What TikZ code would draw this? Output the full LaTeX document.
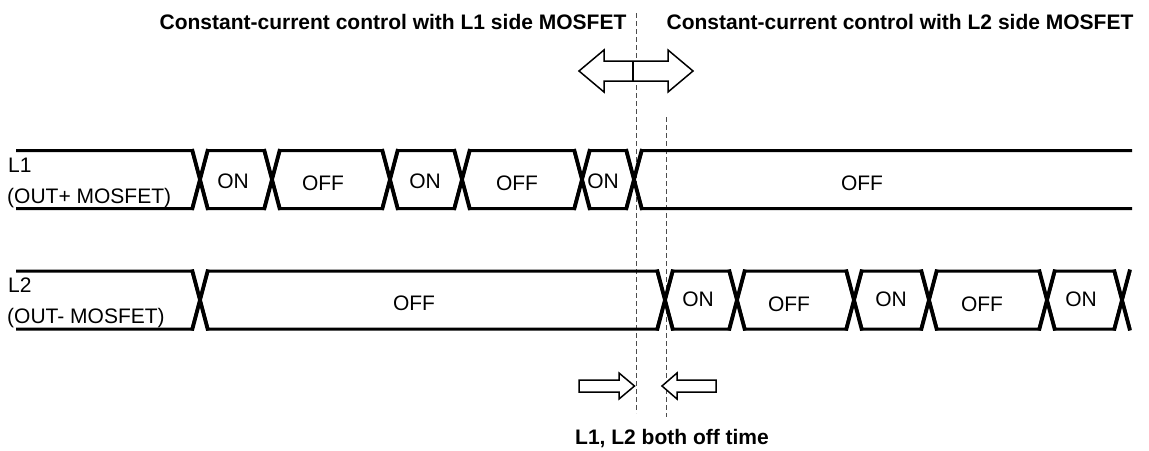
\documentclass[tikz,border=0pt]{standalone}
\usepackage{fontspec}
\setmainfont{Liberation Sans}
\begin{document}
\begin{tikzpicture}[x=1pt,y=-1pt,
  sig/.style={line width=3pt, line join=miter},
  cross/.style={line width=3.8pt, line cap=butt},
  guide/.style={line width=1pt, dash pattern=on 5pt off 3pt, black!70},
  lbl/.style={inner sep=0pt, font=\fontsize{21}{25}\selectfont},
  ttl/.style={inner sep=0pt, font=\fontsize{21}{25}\selectfont\bfseries},
  hollow/.style={line width=1.5pt, fill=white, line join=miter}]
\useasboundingbox (0,0) rectangle (1149,450);

% guide lines
\draw[guide] (636.5,13) -- (636.5,413);
\draw[guide] (666.5,117) -- (666.5,417);

% L1 signal
\draw[sig] (16,150.5) -- (192,150.5) -- (208,208.5) -- (264,208.5) -- (280,150.5) -- (382,150.5) -- (398,208.5) -- (454,208.5) -- (470,150.5) -- (574,150.5) -- (590,208.5) -- (626,208.5) -- (642,150.5) -- (1132,150.5);
\draw[sig] (16,208.5) -- (192,208.5) -- (208,150.5) -- (264,150.5) -- (280,208.5) -- (382,208.5) -- (398,150.5) -- (454,150.5) -- (470,208.5) -- (574,208.5) -- (590,150.5) -- (626,150.5) -- (642,208.5) -- (1132,208.5);
\foreach \c in {200,272,390,462,582,634}{
  \draw[cross] (\c-8,149) -- (\c+8,210);
  \draw[cross] (\c-8,210) -- (\c+8,149);
}

% L2 signal
\draw[sig] (16,271) -- (192,271) -- (208,329) -- (657,329) -- (673,271) -- (729,271) -- (745,329) -- (846,329) -- (862,271) -- (921,271) -- (937,329) -- (1039,329) -- (1055,271) -- (1114,271) -- (1130,329);
\draw[sig] (16,329) -- (192,329) -- (208,271) -- (657,271) -- (673,329) -- (729,329) -- (745,271) -- (846,271) -- (862,329) -- (921,329) -- (937,271) -- (1039,271) -- (1055,329) -- (1114,329) -- (1130,271);
\foreach \c in {200,665,737,854,929,1047,1122}{
  \draw[cross] (\c-8,269.5) -- (\c+8,330.5);
  \draw[cross] (\c-8,330.5) -- (\c+8,269.5);
}

% row labels
\node[lbl, anchor=base west] (l1a) at (8,172) {L1};
\node[lbl, anchor=base west] (l1b) at (7,203) {(OUT+ MOSFET)};
\node[lbl, anchor=base west] (l2a) at (8,292) {L2};
\node[lbl, anchor=base west] (l2b) at (7,323) {(OUT- MOSFET)};

% L1 states
\node[lbl, anchor=base] (a1) at (233,188) {ON};
\node[lbl, anchor=base] (a2) at (323,190) {OFF};
\node[lbl, anchor=base] (a3) at (425,188) {ON};
\node[lbl, anchor=base] (a4) at (517,190) {OFF};
\node[lbl, anchor=base] (a5) at (603,188) {ON};
\node[lbl, anchor=base] (a6) at (862,190) {OFF};

% L2 states
\node[lbl, anchor=base] (b1) at (414,310) {OFF};
\node[lbl, anchor=base] (b2) at (698,306) {ON};
\node[lbl, anchor=base] (b3) at (789,311) {OFF};
\node[lbl, anchor=base] (b4) at (891,306) {ON};
\node[lbl, anchor=base] (b5) at (982,311) {OFF};
\node[lbl, anchor=base] (b6) at (1081,306) {ON};

% double arrow
\draw[hollow] (579,71) -- (604,50) -- (604,61) -- (668,61) -- (668,50) -- (693,71) -- (668,92) -- (668,81) -- (604,81) -- (604,92) -- cycle;
\draw[line width=2.5pt] (633,61) -- (633,81);

% bottom arrows
\draw[hollow] (579,380) -- (619,380) -- (619,373) -- (634.5,386) -- (619,399) -- (619,392) -- (579,392) -- cycle;
\draw[hollow] (716,380) -- (677,380) -- (677,373) -- (662,386) -- (677,399) -- (677,392) -- (716,392) -- cycle;

% titles
\node[ttl, anchor=base] (t1) at (393,29) {Constant-current control with L1 side MOSFET};
\node[ttl, anchor=base] (t2) at (900,29) {Constant-current control with L2 side MOSFET};
\node[ttl, anchor=base] (t3) at (672,444) {L1, L2 both off time};
\end{tikzpicture}
\end{document}
